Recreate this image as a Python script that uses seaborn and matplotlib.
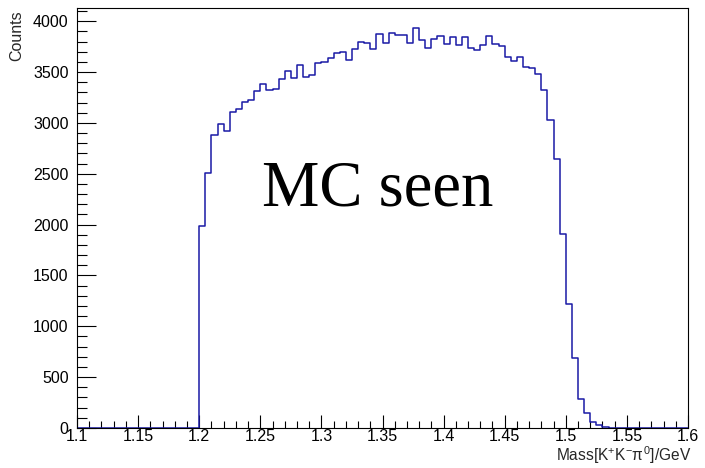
import numpy as np
import pandas as pd
import matplotlib
matplotlib.use("Agg")
import matplotlib.pyplot as plt
from matplotlib.ticker import MultipleLocator
import seaborn as sns

# ---- data ----
x_min, x_max, n_bins = 1.1, 1.6, 100
counts = ([0] * 20 +
          [1982, 2510, 2876, 2985, 2922, 3105, 3134, 3201, 3225, 3311,
           3387, 3324, 3330, 3427, 3506, 3440, 3572, 3452, 3473, 3591,
           3594, 3640, 3689, 3700, 3623, 3722, 3795, 3784, 3730, 3875,
           3788, 3882, 3866, 3866, 3788, 3930, 3810, 3732, 3820, 3853,
           3772, 3848, 3764, 3843, 3735, 3712, 3768, 3853, 3778, 3758,
           3646, 3606, 3646, 3548, 3538, 3483, 3319, 3024, 2648, 1904,
           1215, 688, 284, 147, 56, 33, 8, 4] +
          [0] * 12)
x_tick_labels = ["1.1", "1.15", "1.2", "1.25", "1.3", "1.35", "1.4", "1.45", "1.5", "1.55", "1.6"]
y_tick_labels = ["0", "500", "1000", "1500", "2000", "2500", "3000", "3500", "4000"]
title_text = "MC seen"
x_label = r"Mass[K$^{+}$K$^{-}\pi^{0}$]/GeV"
y_label = "Counts"

edges = np.linspace(x_min, x_max, n_bins + 1)
centers = 0.5 * (edges[:-1] + edges[1:])
df = pd.DataFrame({"mass": centers, "counts": np.asarray(counts, dtype=float)})

sns.set_theme(style="ticks")
plt.rcParams["font.family"] = ["Liberation Sans", "DejaVu Sans"]
plt.rcParams["mathtext.fontset"] = "custom"
plt.rcParams["mathtext.rm"] = "Liberation Sans"
plt.rcParams["mathtext.it"] = "Liberation Sans"

DPI = 100
px = 72.0 / DPI  # points per pixel

fig = plt.figure(figsize=(7.05, 4.68), dpi=DPI)
ax = fig.add_axes([77 / 705, 1 - 428 / 468, (688 - 77) / 705, (428 - 8.3) / 468])

sns.histplot(data=df, x="mass", weights="counts", bins=n_bins,
             binrange=(x_min, x_max), element="step",
             fill=False, color="#1a1aa6", linewidth=1.1, ax=ax)

ax.set_xlim(x_min, x_max)
ax.set_ylim(0, 1.05 * max(counts))

ax.xaxis.set_minor_locator(MultipleLocator(0.01))
ax.yaxis.set_minor_locator(MultipleLocator(100))
ax.set_xticks([float(t) for t in x_tick_labels])
ax.set_xticklabels(x_tick_labels)
ax.set_yticks([float(t) for t in y_tick_labels])
ax.set_yticklabels(y_tick_labels)

ax.tick_params(axis="both", which="both", direction="in", colors="black",
               labelsize=11.5, width=0.8)
ax.tick_params(axis="x", which="major", length=13 * px, pad=1)
ax.tick_params(axis="x", which="minor", length=7 * px)
ax.tick_params(axis="y", which="major", length=19 * px, pad=6)
ax.tick_params(axis="y", which="minor", length=10 * px)

for s in ax.spines.values():
    s.set_visible(True)
    s.set_color("black")
    s.set_linewidth(0.8)

ax.set_xlabel("")
ax.set_ylabel("")
fig.text(691 / 705, 1 - 461 / 468, x_label, ha="right", va="baseline", fontsize=11.2)
fig.text(17 / 705, 1 - 10 / 468, y_label, ha="center", va="top", rotation=90, fontsize=11.5)

ax.text(1.251, 2190, title_text, ha="left", va="baseline",
        family=["Liberation Serif", "DejaVu Serif"], fontsize=46.5, color="black")

ax.grid(False)
fig.savefig("out.png", dpi=DPI, facecolor="white")
